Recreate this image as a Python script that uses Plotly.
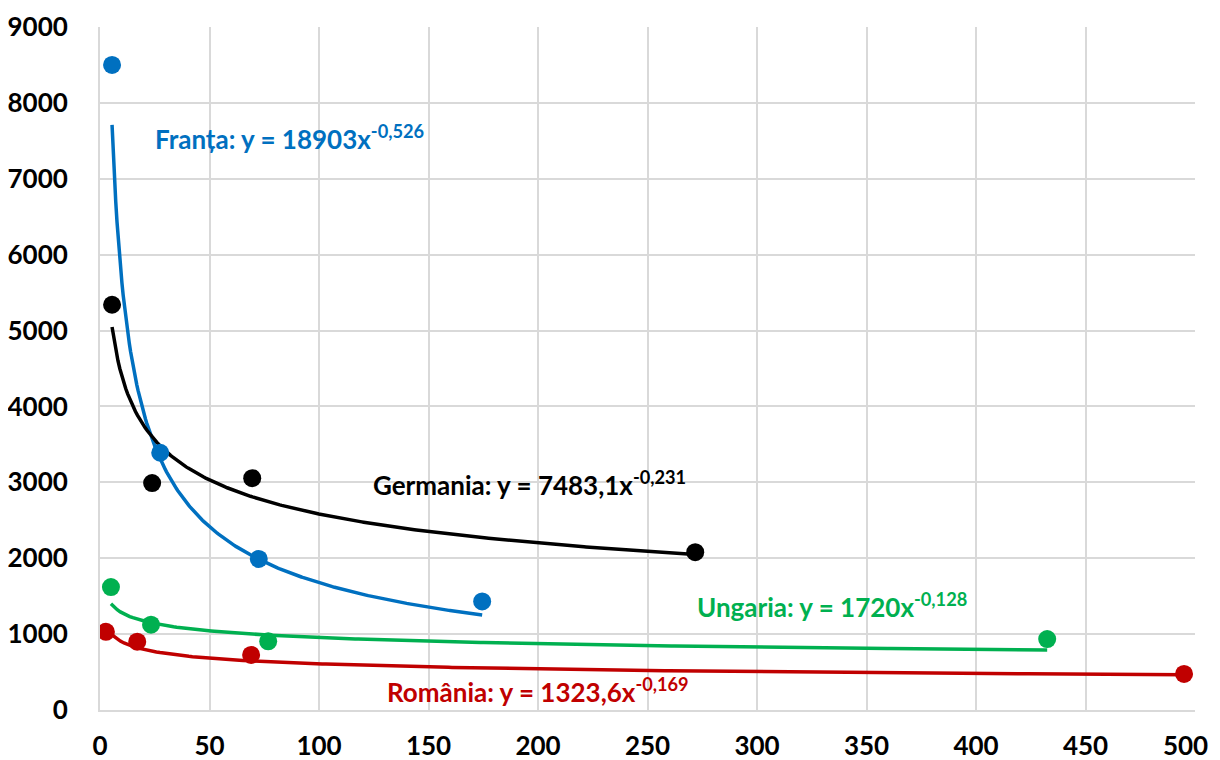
import numpy as np
import plotly.graph_objects as go

# ---- data ----
franta_x = [5.5, 27.5, 72.5, 174.5]
franta_y = [8500, 3390, 1990, 1430]
germania_x = [5.5, 23.8, 69.5, 271.8]
germania_y = [5340, 2990, 3055, 2080]
ungaria_x = [5.0, 23.3, 76.8, 432.5]
ungaria_y = [1620, 1125, 905, 935]
romania_x = [2.7, 17.0, 69.0, 495.0]
romania_y = [1030, 900, 725, 475]

# power trend-line coefficients (from the equation labels)
franta_fit = (18903, -0.526)
germania_fit = (7483.1, -0.231)
ungaria_fit = (1720, -0.128)
romania_fit = (1323.6, -0.169)

x_ticks = [0, 50, 100, 150, 200, 250, 300, 350, 400, 450, 500]
x_tick_labels = ["0", "50", "100", "150", "200", "250", "300", "350", "400", "450",
                 "500&nbsp;&nbsp;&nbsp;"]
y_ticks = [0, 1000, 2000, 3000, 4000, 5000, 6000, 7000, 8000, 9000]

series = [
    ("Franța", franta_x, franta_y, franta_fit, "#0070C0", "18903", "-0,526", 24.2, 7540),
    ("Germania", germania_x, germania_y, germania_fit, "#000000", "7483,1", "-0,231", 123.7, 2990),
    ("Ungaria", ungaria_x, ungaria_y, ungaria_fit, "#00B050", "1720", "-0,128", 271.7, 1383),
    ("România", romania_x, romania_y, romania_fit, "#C00000", "1323,6", "-0,169", 130, 263),
]

FONT = "Lato"
fig = go.Figure()

for name, xs, ys, (a, b), col, *_ in series:
    xt = np.linspace(min(xs), max(xs), 300)
    yt = a * xt ** b
    fig.add_trace(go.Scatter(x=xt, y=yt, mode="lines",
                             line=dict(color=col, width=3.5), showlegend=False,
                             hoverinfo="skip"))

for name, xs, ys, fit, col, *_ in series:
    fig.add_trace(go.Scatter(x=xs, y=ys, mode="markers", name=name,
                             marker=dict(color=col, size=18), showlegend=False))

for name, xs, ys, fit, col, coef, expo, ax, ay in series:
    fig.add_annotation(
        x=ax, y=ay, xref="x", yref="y", xanchor="left", yanchor="middle",
        text=f"{name}: y = {coef}x<sup>{expo}</sup>",
        showarrow=False, font=dict(family=FONT, size=26, color=col, weight="bold"))

grid = "#D9D9D9"
tickf = dict(family=FONT, size=26, color="#000", weight="bold")
# page body has an 8px margin, so the figure is offset by 8px
fig.update_layout(
    width=1212, height=752,
    margin=dict(l=92, r=25, t=19, b=50),
    paper_bgcolor="white", plot_bgcolor="white",
    font=dict(family=FONT, size=24, color="#000000"),
    xaxis=dict(range=[0, 500], tickvals=x_ticks, ticktext=x_tick_labels,
               showgrid=True, gridcolor=grid,
               gridwidth=2, showline=True, linecolor=grid, linewidth=2,
               zeroline=False, ticks="outside", ticklen=12, tickcolor="rgba(0,0,0,0)",
               tickfont=tickf, automargin=False, ticklabeloverflow="allow"),
    yaxis=dict(range=[0, 9000], tickvals=y_ticks, showgrid=True, gridcolor=grid,
               gridwidth=2, showline=True, linecolor=grid, linewidth=2,
               zeroline=False, ticks="outside", ticklen=25, tickcolor="rgba(0,0,0,0)",
               tickfont=tickf, automargin=False),
)

fig.write_html("out.html")
